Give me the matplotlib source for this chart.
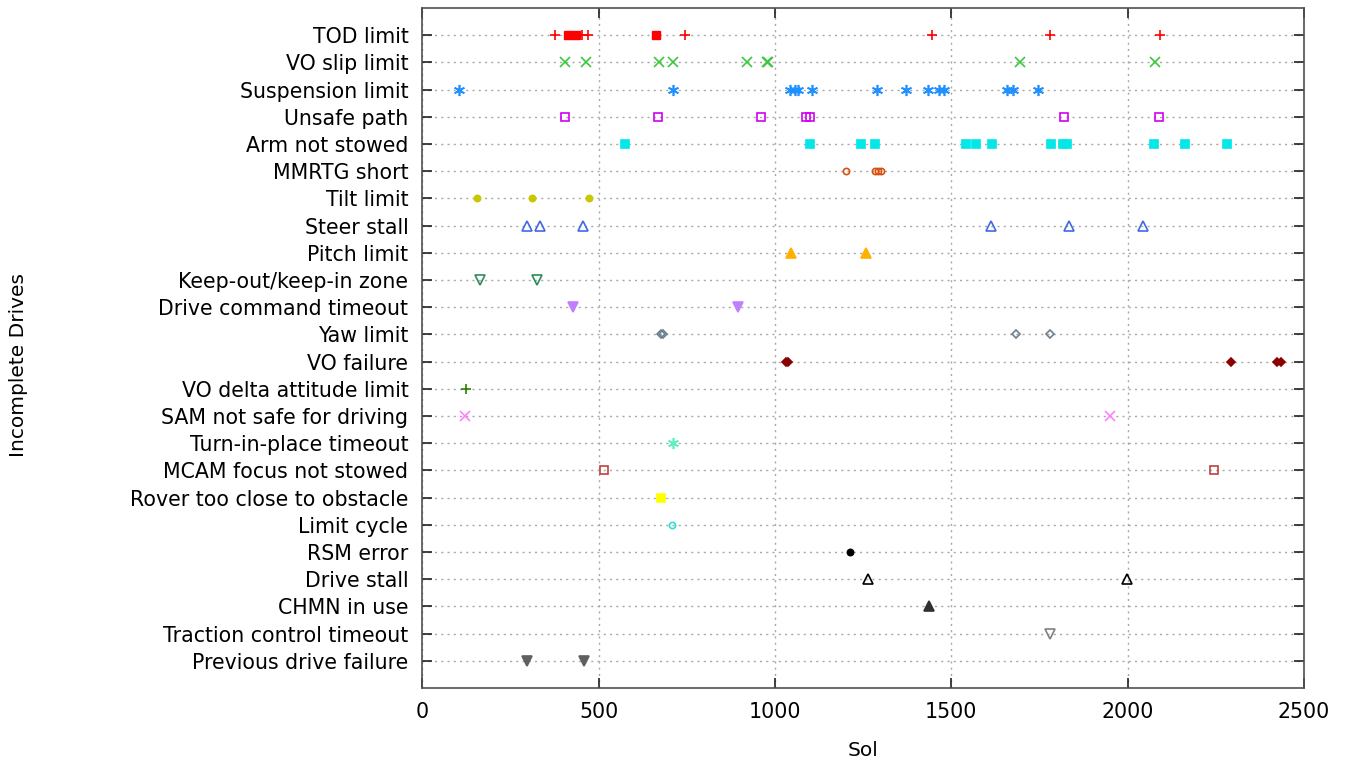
import numpy as np
import matplotlib
matplotlib.use("Agg")
import matplotlib.pyplot as plt


# Sols at which each kind of incomplete drive happened
tod_limit = [377, 452, 471, 744, 1445, 1781, 2092]
tod_limit_sq = [414, 435, 663]
vo_slip = [404, 464, 672, 710, 921, 977, 981, 1696, 2078]
suspension = [104, 710, 1043, 1056, 1065, 1106, 1289, 1372, 1434, 1465, 1479, 1657, 1676, 1745]
unsafe_path = [404, 669, 960, 1087, 1098, 1820, 2088]
arm_not_stowed = [576, 1099, 1244, 1283, 1542, 1570, 1614, 1784, 1817, 1827, 2076, 2163, 2283]
mmrtg_short = [1200, 1283, 1293, 1300]
tilt_limit = [155, 310, 474]
steer_stall = [297, 335, 455, 1612, 1835, 2044]
pitch_limit = [1045, 1258]
keep_out = [164, 325]
drive_cmd_timeout = [426, 894]
yaw_limit = [678, 682, 1684, 1781]
vo_failure = [1032, 1038, 2294, 2424, 2435]
vo_delta = [124]
sam_not_safe = [120, 1949]
turn_in_place = [710]
mcam_focus = [514, 2246]
rover_too_close = [676]
limit_cycle = [708]
rsm_error = [1213]
drive_stall = [1264, 1997]
chmn_in_use = [1437]
traction_timeout = [1779]
previous_failure = [296, 458]

categories = ["TOD limit", "VO slip limit", "Suspension limit", "Unsafe path",
              "Arm not stowed", "MMRTG short", "Tilt limit", "Steer stall",
              "Pitch limit", "Keep-out/keep-in zone", "Drive command timeout",
              "Yaw limit", "VO failure", "VO delta attitude limit",
              "SAM not safe for driving", "Turn-in-place timeout",
              "MCAM focus not stowed", "Rover too close to obstacle",
              "Limit cycle", "RSM error", "Drive stall", "CHMN in use",
              "Traction control timeout", "Previous drive failure"]

# (sols, marker, colour, filled, size)
series = [
    (tod_limit, "+", "#ff0000", True, 7),
    (vo_slip, "x", "#3cc83c", True, 6.5),
    (suspension, (6, 2, 0), "#1e90ff", True, 8),
    (unsafe_path, "s", "#d000f0", False, 5.5),
    (arm_not_stowed, "s", "#00e8e8", True, 6),
    (mmrtg_short, "o", "#d85010", False, 4.5),
    (tilt_limit, "o", "#c8c800", True, 4.5),
    (steer_stall, "^", "#4169e1", False, 6.5),
    (pitch_limit, "^", "#ffb000", True, 6.5),
    (keep_out, "v", "#2e8b57", False, 6.5),
    (drive_cmd_timeout, "v", "#c080ff", True, 6.5),
    (yaw_limit, "D", "#6a8090", False, 4),
    (vo_failure, "D", "#8b0000", True, 4),
    (vo_delta, "+", "#2a8000", True, 7),
    (sam_not_safe, "x", "#ff80ff", True, 6.5),
    (turn_in_place, (6, 2, 0), "#60f0c0", True, 8),
    (mcam_focus, "s", "#c04040", False, 5.5),
    (rover_too_close, "s", "#ffff00", True, 6),
    (limit_cycle, "o", "#30e0d8", False, 4.5),
    (rsm_error, "o", "#000000", True, 4.5),
    (drive_stall, "^", "#000000", False, 6.5),
    (chmn_in_use, "^", "#303030", True, 6.5),
    (traction_timeout, "v", "#808080", False, 6.5),
    (previous_failure, "v", "#606060", True, 6.5),
]

n = len(categories)
ypos = np.arange(n, 0, -1)

fig = plt.figure(figsize=(13.47, 7.60), dpi=100)
ax = fig.add_axes([0.3135, 0.0947, 0.6546, 0.8948])

for y, (sols, marker, color, filled, ms) in zip(ypos, series):
    face = color if filled else "none"
    ax.plot(sols, [y] * len(sols), linestyle="none", marker=marker, ms=ms,
            markerfacecolor=face, markeredgecolor=color, mew=1.2, zorder=3)

# TOD limit also has a few filled squares
ax.plot(tod_limit_sq, [ypos[0]] * len(tod_limit_sq), linestyle="none", marker="s",
        ms=6, color="#ff0000", zorder=3)

ax.set_xlim(0, 2500)
ax.set_ylim(0, n + 1)
ax.set_xticks([0, 500, 1000, 1500, 2000, 2500])
ax.set_yticks(ypos)
ax.set_yticklabels(categories)

ax.grid(True, linestyle=(0, (1.5, 3)), color="#a8a8a8", linewidth=1)
ax.set_axisbelow(True)
ax.tick_params(direction="in", top=True, right=True, length=7, width=1.2,
               labelsize=14.8, pad=10, colors="#202020", labelcolor="black")
for s in ax.spines.values():
    s.set_color("#505050")
    s.set_linewidth(1.2)

ax.set_xlabel("Sol", fontsize=14.5, labelpad=14)
fig.text(0.014, 0.52, "Incomplete Drives", rotation=90, fontsize=14.5,
         ha="center", va="center")

fig.savefig("out.png", dpi=100)
